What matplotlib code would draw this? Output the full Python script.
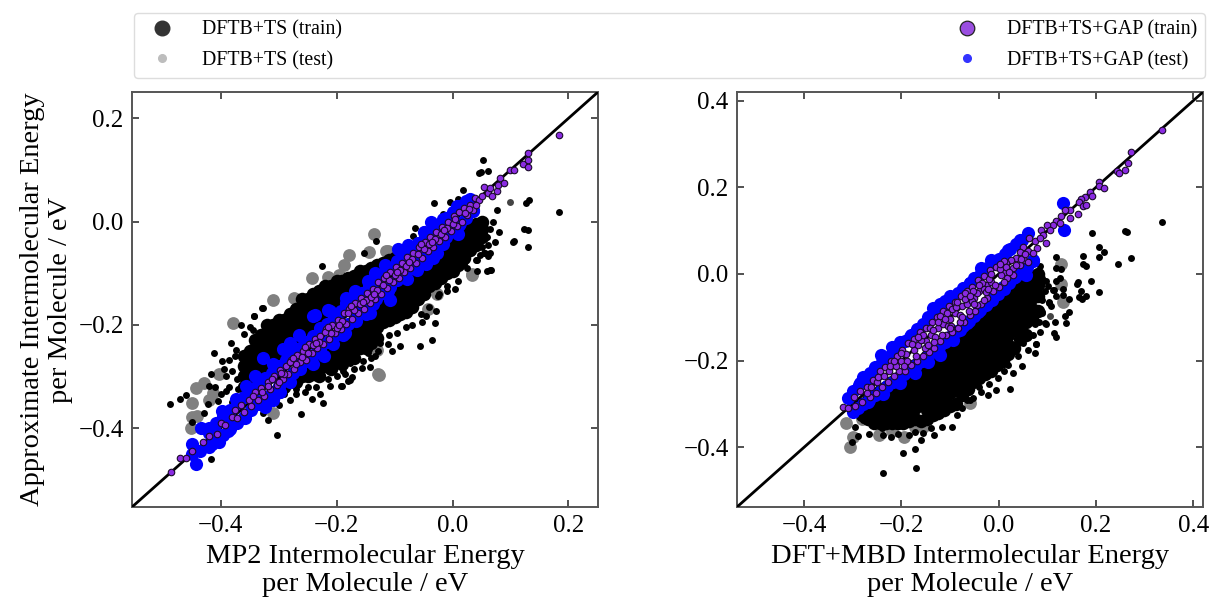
import matplotlib
matplotlib.use("Agg")
import matplotlib.pyplot as plt
import numpy as np
from matplotlib.lines import Line2D

plt.rcParams['font.family'] = ['Liberation Serif', 'DejaVu Serif']

# Values, as (x, y) in eV
# Left panel: MP2
mp2_ts_test = [(-0.135, -0.024), (-0.144, -0.059), (-0.179, -0.065), (-0.187, -0.085), (-0.243, -0.110),
               (-0.214, -0.108), (-0.196, -0.104), (-0.31, -0.151), (-0.274, -0.149), (-0.112, -0.058),
               (-0.379, -0.197), (-0.45, -0.351), (-0.443, -0.322), (-0.428, -0.313), (-0.414, -0.332),
               (-0.449, -0.378), (-0.451, -0.399), (-0.44, -0.377), (-0.403, -0.295), (-0.31, -0.37),
               (-0.129, -0.296), (-0.127, -0.297), (-0.042, -0.169), (0.034, -0.101), (-0.131, -0.248),
               (0.033, -0.103), (-0.114, -0.057), (-0.027, -0.141), (0.003, -0.08), (-0.42, -0.345)]
mp2_ts_train = [(-0.226, -0.087), (-0.132, -0.037), (-0.153, -0.06), (-0.032, 0.035), (-0.004, 0.037),
                (0.009, 0.043), (0.018, 0.062), (0.046, 0.095), (-0.065, -0.012), (-0.016, 0.015),
                (-0.328, -0.168), (-0.343, -0.182), (0.053, 0.119), (0.049, 0.096), (0.061, 0.098),
                (0.132, 0.041), (0.127, 0.036), (0.184, 0.018), (0.076, 0.022), (-0.068, -0.028),
                (-0.05, -0.015), (0.123, -0.015), (0.131, -0.017), (0.081, -0.02), (0.074, -0.039),
                (0.106, -0.038), (0.13, -0.05), (0.065, -0.06), (0.059, -0.096), (0.067, -0.094),
                (0.042, -0.074), (0.047, -0.064), (0.056, -0.06), (0.105, -0.039), (0.062, -0.046),
                (0.054, -0.06), (0.062, -0.066), (0.065, -0.094), (0.043, -0.096), (0.019, -0.083),
                (0.005, -0.131), (-0.009, -0.135), (-0.023, -0.141), (-0.029, -0.174), (-0.03, -0.196),
                (-0.046, -0.183), (-0.053, -0.194), (-0.036, -0.23), (-0.056, -0.241), (-0.091, -0.242),
                (-0.112, -0.238), (-0.105, -0.251), (-0.128, -0.251), (-0.134, -0.26), (-0.143, -0.281),
                (-0.157, -0.283), (-0.174, -0.302), (-0.18, -0.309), (-0.192, -0.318), (-0.146, -0.254),
                (-0.177, -0.274), (-0.189, -0.289), (-0.487, -0.353), (-0.47, -0.343), (-0.46, -0.336),
                (-0.417, -0.46), (-0.302, -0.413), (-0.262, -0.373), (-0.318, -0.384), (-0.327, -0.37),
                (-0.243, -0.344), (-0.224, -0.352), (-0.229, -0.335), (-0.212, -0.319), (-0.191, -0.319),
                (-0.177, -0.306), (-0.411, -0.254), (-0.382, -0.235), (-0.327, -0.168), (-0.342, -0.182),
                (-0.417, -0.295), (-0.422, -0.354), (-0.428, -0.37), (-0.449, -0.388), (-0.405, -0.347),
                (-0.391, -0.328), (-0.373, -0.248), (-0.365, -0.2), (-0.359, -0.218), (-0.397, -0.271),
                (-0.385, -0.268), (-0.42, -0.319), (-0.371, -0.305), (-0.36, -0.285), (-0.355, -0.33),
                (-0.39, -0.3), (-0.345, -0.355), (-0.325, -0.345), (-0.3, -0.355), (-0.28, -0.345),
                (-0.27, -0.335), (-0.255, -0.33), (-0.38, -0.35), (-0.365, -0.345), (-0.345, -0.21),
                (-0.29, -0.335), (-0.27, -0.325), (-0.25, -0.32), (-0.235, -0.32), (-0.215, -0.305),
                (-0.2, -0.3), (-0.185, -0.295), (-0.17, -0.285), (-0.155, -0.27), (-0.14, -0.265),
                (-0.125, -0.235), (-0.11, -0.22), (-0.095, -0.215), (-0.08, -0.205), (-0.07, -0.2),
                (-0.055, -0.18), (-0.04, -0.165), (-0.025, -0.145), (-0.01, -0.125), (0.01, -0.115),
                (0.025, -0.09), (0.04, -0.075), (0.05, -0.05), (0.06, -0.03), (0.05, -0.012),
                (0.065, -0.015), (0.07, 0.0), (-0.375, -0.26), (-0.38, -0.29), (-0.37, -0.325),
                (-0.385, -0.32), (-0.4, -0.335), (-0.41, -0.32), (-0.395, -0.285), (-0.35, -0.205)]
mp2_ts_train_light = [(0.099, 0.037)]
# solid part of the cloud, too dense to read point by point: drawn with bigger black dots
mp2_ts_dense = [(-0.36, -0.26), (-0.36, -0.28), (-0.36, -0.30), (-0.36, -0.32),
                (-0.34, -0.23), (-0.34, -0.25), (-0.34, -0.27), (-0.34, -0.29), (-0.34, -0.31),
                (-0.32, -0.20), (-0.32, -0.22), (-0.32, -0.24), (-0.32, -0.26), (-0.32, -0.28), (-0.32, -0.30),
                (-0.30, -0.19), (-0.30, -0.21), (-0.30, -0.23), (-0.30, -0.25), (-0.30, -0.27), (-0.30, -0.29),
                (-0.28, -0.18), (-0.28, -0.20), (-0.28, -0.22), (-0.28, -0.24), (-0.28, -0.26),
                (-0.26, -0.15), (-0.26, -0.17), (-0.26, -0.19), (-0.26, -0.21), (-0.26, -0.23),
                (-0.24, -0.14), (-0.24, -0.16), (-0.24, -0.18), (-0.24, -0.20), (-0.24, -0.22),
                (-0.22, -0.125), (-0.22, -0.145), (-0.22, -0.165), (-0.22, -0.185), (-0.22, -0.20),
                (-0.20, -0.115), (-0.20, -0.135), (-0.20, -0.155), (-0.20, -0.175),
                (-0.18, -0.11), (-0.18, -0.13), (-0.18, -0.15), (-0.18, -0.165),
                (-0.16, -0.095), (-0.16, -0.115), (-0.16, -0.135), (-0.14, -0.09), (-0.14, -0.11), (-0.14, -0.12),
                (-0.12, -0.08), (-0.12, -0.10), (-0.10, -0.07),
                (-0.30, -0.33), (-0.28, -0.31), (-0.26, -0.30), (-0.26, -0.285), (-0.24, -0.295), (-0.24, -0.275),
                (-0.22, -0.28), (-0.22, -0.26), (-0.20, -0.27), (-0.20, -0.25), (-0.20, -0.23),
                (-0.18, -0.26), (-0.18, -0.24), (-0.18, -0.22), (-0.16, -0.245), (-0.16, -0.225), (-0.16, -0.205),
                (-0.14, -0.235), (-0.14, -0.215), (-0.14, -0.195), (-0.14, -0.175),
                (-0.12, -0.195), (-0.12, -0.175), (-0.12, -0.155),
                (-0.10, -0.185), (-0.10, -0.165), (-0.10, -0.145), (-0.10, -0.13),
                (-0.08, -0.175), (-0.08, -0.155), (-0.08, -0.135), (-0.08, -0.115),
                (-0.06, -0.15), (-0.06, -0.13), (-0.06, -0.11), (-0.06, -0.095),
                (-0.04, -0.125), (-0.04, -0.105), (-0.04, -0.085), (-0.04, -0.075),
                (-0.02, -0.11), (-0.02, -0.09), (-0.02, -0.07), (-0.02, -0.055),
                (0.00, -0.095), (0.00, -0.075), (0.00, -0.055), (0.00, -0.035),
                (0.02, -0.07), (0.02, -0.05), (0.02, -0.03), (0.02, -0.015),
                (0.04, -0.045), (0.04, -0.025), (0.04, -0.005),
                (-0.35, -0.25), (-0.35, -0.27), (-0.35, -0.29), (-0.35, -0.31),
                (-0.33, -0.22), (-0.33, -0.24), (-0.33, -0.26), (-0.33, -0.28), (-0.33, -0.30),
                (-0.31, -0.20), (-0.31, -0.22), (-0.31, -0.24), (-0.31, -0.26), (-0.31, -0.28), (-0.31, -0.30),
                (-0.29, -0.19), (-0.29, -0.21), (-0.29, -0.23), (-0.29, -0.25), (-0.29, -0.27),
                (-0.27, -0.17), (-0.27, -0.19), (-0.27, -0.21), (-0.27, -0.23), (-0.27, -0.25),
                (-0.25, -0.15), (-0.25, -0.17), (-0.25, -0.19), (-0.25, -0.21), (-0.25, -0.23),
                (-0.23, -0.135), (-0.23, -0.155), (-0.23, -0.175), (-0.23, -0.195),
                (-0.21, -0.125), (-0.21, -0.145), (-0.21, -0.165), (-0.21, -0.185),
                (-0.19, -0.115), (-0.19, -0.135), (-0.19, -0.155), (-0.19, -0.17),
                (-0.17, -0.105), (-0.17, -0.125), (-0.17, -0.145), (-0.15, -0.095), (-0.15, -0.115), (-0.15, -0.13),
                (-0.13, -0.085), (-0.13, -0.105), (-0.11, -0.075), (-0.11, -0.09),
                (-0.29, -0.32), (-0.29, -0.31), (-0.27, -0.31), (-0.27, -0.295), (-0.25, -0.30), (-0.25, -0.285),
                (-0.23, -0.30), (-0.23, -0.28), (-0.23, -0.26), (-0.21, -0.285), (-0.21, -0.265), (-0.21, -0.245),
                (-0.19, -0.275), (-0.19, -0.255), (-0.19, -0.235),
                (-0.17, -0.265), (-0.17, -0.245), (-0.17, -0.225), (-0.17, -0.205),
                (-0.15, -0.245), (-0.15, -0.225), (-0.15, -0.205), (-0.15, -0.185),
                (-0.13, -0.225), (-0.13, -0.205), (-0.13, -0.185), (-0.13, -0.165),
                (-0.11, -0.19), (-0.11, -0.17), (-0.11, -0.15), (-0.11, -0.135),
                (-0.09, -0.18), (-0.09, -0.16), (-0.09, -0.14), (-0.09, -0.12),
                (-0.07, -0.165), (-0.07, -0.145), (-0.07, -0.125), (-0.07, -0.105),
                (-0.05, -0.14), (-0.05, -0.12), (-0.05, -0.10), (-0.05, -0.085),
                (-0.03, -0.12), (-0.03, -0.10), (-0.03, -0.08), (-0.03, -0.065),
                (-0.01, -0.10), (-0.01, -0.08), (-0.01, -0.06), (-0.01, -0.045),
                (0.01, -0.085), (0.01, -0.065), (0.01, -0.045), (0.01, -0.025),
                (0.03, -0.055), (0.03, -0.035), (0.03, -0.015), (0.05, -0.03), (0.05, -0.015), (0.05, 0.0)]
mp2_gap_test = [(-0.443, -0.47), (-0.434, -0.399), (-0.449, -0.43), (-0.415, -0.431), (-0.403, -0.428),
                (-0.356, -0.318), (-0.327, -0.264), (-0.293, -0.247), (-0.265, -0.219), (-0.241, -0.183),
                (-0.212, -0.174), (-0.183, -0.158), (-0.397, -0.367), (-0.373, -0.344), (-0.388, -0.405),
                (-0.358, -0.38), (-0.324, -0.36), (-0.298, -0.331), (-0.264, -0.286), (-0.222, -0.26),
                (-0.186, -0.215), (-0.143, -0.177), (-0.206, -0.238), (-0.408, -0.409), (-0.45, -0.451),
                (-0.238, -0.181), (-0.215, -0.172), (-0.169, -0.135), (-0.134, -0.099), (-0.117, -0.085),
                (-0.094, -0.054), (-0.077, -0.045), (-0.037, -0.001), (-0.05, -0.021), (-0.016, 0.004),
                (0.007, 0.03), (0.03, 0.043), (-0.146, -0.115), (-0.183, -0.148), (-0.108, -0.151),
                (-0.062, -0.093), (-0.027, -0.06), (0.01, -0.025), (-0.149, -0.18), (-0.079, -0.112),
                (-0.045, -0.083), (0.013, -0.003), (0.036, 0.023), (-0.189, -0.219), (-0.166, -0.193),
                (-0.137, -0.16), (-0.111, -0.135), (-0.033, -0.07), (-0.016, -0.044), (-0.34, -0.30),
                (-0.31, -0.275), (-0.28, -0.235), (-0.255, -0.27), (-0.24, -0.275), (-0.34, -0.345),
                (-0.38, -0.385), (-0.31, -0.345), (-0.28, -0.31), (-0.42, -0.41), (-0.435, -0.445),
                (-0.42, -0.40), (-0.408, -0.39), (-0.396, -0.376), (-0.384, -0.366), (-0.372, -0.352),
                (-0.36, -0.34), (-0.348, -0.33), (-0.336, -0.314), (-0.324, -0.304), (-0.312, -0.294),
                (-0.30, -0.28), (-0.288, -0.268), (-0.276, -0.258), (-0.264, -0.244), (-0.252, -0.234),
                (-0.24, -0.222), (-0.228, -0.206), (-0.216, -0.198), (-0.204, -0.184), (-0.192, -0.174),
                (-0.18, -0.162), (-0.168, -0.148), (-0.156, -0.138), (-0.144, -0.124), (-0.132, -0.114),
                (-0.12, -0.102), (-0.108, -0.09), (-0.096, -0.076), (-0.084, -0.066), (-0.072, -0.054),
                (-0.06, -0.042), (-0.048, -0.03), (-0.036, -0.018), (-0.024, -0.006), (-0.012, 0.006),
                (0.0, 0.018), (0.012, 0.03), (0.024, 0.04),
                (-0.42, -0.436), (-0.408, -0.425), (-0.396, -0.414), (-0.384, -0.402), (-0.372, -0.39),
                (-0.36, -0.378), (-0.348, -0.366), (-0.336, -0.354), (-0.324, -0.342), (-0.312, -0.33),
                (-0.30, -0.318), (-0.288, -0.306), (-0.276, -0.294), (-0.264, -0.282), (-0.252, -0.27),
                (-0.24, -0.258), (-0.228, -0.246), (-0.216, -0.234), (-0.204, -0.222), (-0.192, -0.21),
                (-0.18, -0.198), (-0.168, -0.186), (-0.156, -0.174), (-0.144, -0.162), (-0.132, -0.15),
                (-0.12, -0.138), (-0.108, -0.126), (-0.096, -0.114), (-0.084, -0.102), (-0.072, -0.09),
                (-0.06, -0.078), (-0.048, -0.066), (-0.036, -0.054), (-0.024, -0.042), (-0.012, -0.03),
                (0.0, -0.018), (0.012, -0.006), (0.024, 0.006), (0.036, 0.02)]
mp2_gap_train = [(-0.486, -0.485), (-0.47, -0.458), (-0.46, -0.459), (-0.449, -0.444), (-0.431, -0.428),
                 (-0.421, -0.416), (-0.407, -0.412), (-0.4, -0.39), (-0.381, -0.378), (-0.372, -0.38),
                 (-0.365, -0.355), (-0.36, -0.368), (-0.352, -0.345), (-0.348, -0.358), (-0.34, -0.33),
                 (-0.336, -0.345), (-0.33, -0.322), (-0.325, -0.338), (-0.318, -0.31), (-0.315, -0.325),
                 (-0.308, -0.3), (-0.303, -0.316), (-0.298, -0.288), (-0.293, -0.305), (-0.288, -0.28),
                 (-0.283, -0.295), (-0.278, -0.268), (-0.273, -0.285), (-0.268, -0.258), (-0.263, -0.272),
                 (-0.258, -0.25), (-0.253, -0.268), (-0.248, -0.238), (-0.243, -0.255), (-0.238, -0.228),
                 (-0.233, -0.245), (-0.228, -0.222), (-0.223, -0.238), (-0.218, -0.208), (-0.213, -0.228),
                 (-0.208, -0.2), (-0.203, -0.216), (-0.198, -0.19), (-0.193, -0.208), (-0.188, -0.178),
                 (-0.183, -0.198), (-0.178, -0.17), (-0.173, -0.188), (-0.168, -0.158), (-0.163, -0.178),
                 (-0.158, -0.148), (-0.153, -0.17), (-0.148, -0.138), (-0.143, -0.158), (-0.138, -0.13),
                 (-0.133, -0.15), (-0.128, -0.118), (-0.123, -0.14), (-0.118, -0.11), (-0.113, -0.128),
                 (-0.108, -0.098), (-0.103, -0.118), (-0.098, -0.088), (-0.093, -0.11), (-0.088, -0.08),
                 (-0.083, -0.098), (-0.078, -0.068), (-0.073, -0.09), (-0.068, -0.06), (-0.063, -0.08),
                 (-0.058, -0.05), (-0.053, -0.07), (-0.048, -0.04), (-0.043, -0.058), (-0.038, -0.03),
                 (-0.033, -0.05), (-0.028, -0.02), (-0.023, -0.038), (-0.018, -0.01), (-0.013, -0.03),
                 (-0.008, 0.0), (-0.003, -0.018), (0.002, 0.01), (0.007, -0.008), (0.012, 0.018),
                 (0.017, 0.0), (0.019, 0.027), (0.025, 0.012), (0.03, 0.033), (0.035, 0.022),
                 (0.039, 0.045), (0.045, 0.042), (0.05, 0.05), (0.055, 0.067), (0.062, 0.056),
                 (0.064, 0.065), (0.068, 0.05), (0.077, 0.06), (0.078, 0.071), (0.082, 0.084),
                 (0.088, 0.075), (0.1, 0.099), (0.106, 0.099), (0.122, 0.112), (0.13, 0.12),
                 (0.131, 0.132), (0.131, 0.106), (0.184, 0.168), (-0.29, -0.296), (-0.25, -0.255),
                 (-0.21, -0.215), (-0.17, -0.172), (-0.13, -0.133), (-0.09, -0.093), (-0.05, -0.053),
                 (-0.01, -0.012), (0.028, 0.024), (-0.27, -0.275), (-0.23, -0.234), (-0.19, -0.192),
                 (-0.15, -0.152), (-0.11, -0.113), (-0.07, -0.072), (-0.03, -0.033),
                 (-0.392, -0.395), (-0.376, -0.365), (-0.344, -0.338), (-0.328, -0.33), (-0.312, -0.305),
                 (-0.30, -0.31), (-0.28, -0.272), (-0.26, -0.262), (-0.24, -0.24), (-0.22, -0.214),
                 (-0.2, -0.207), (-0.18, -0.178), (-0.16, -0.16), (-0.14, -0.146), (-0.12, -0.122),
                 (-0.1, -0.103), (-0.08, -0.086), (-0.06, -0.062), (-0.04, -0.044), (-0.02, -0.024),
                 (0.0, -0.004), (0.022, 0.016), (0.04, 0.032), (-0.318, -0.318), (-0.296, -0.293),
                 (-0.275, -0.265), (-0.255, -0.243), (-0.235, -0.236), (-0.215, -0.204), (-0.195, -0.2),
                 (-0.175, -0.163), (-0.155, -0.155), (-0.135, -0.14), (-0.115, -0.104), (-0.095, -0.098),
                 (-0.075, -0.078), (-0.055, -0.044), (-0.035, -0.04), (-0.015, -0.016), (0.005, 0.004)]

# Right panel: DFT+MBD
mbd_ts_test = [(0.129, 0.023), (0.129, -0.023), (0.133, -0.064), (-0.306, -0.399), (-0.313, -0.345),
               (-0.247, -0.372), (-0.299, -0.376), (-0.195, -0.377), (-0.172, -0.353), (-0.06, -0.297),
               (-0.271, -0.314), (-0.237, -0.349), (-0.22, -0.362), (-0.156, -0.353), (-0.28, -0.335)]
mbd_ts_train = [(0.336, 0.119), (0.26, 0.098), (0.264, 0.096), (0.191, 0.095), (0.206, 0.063),
                (0.216, 0.051), (0.173, 0.042), (0.206, 0.038), (0.273, 0.036), (0.117, 0.04),
                (0.245, 0.022), (0.173, 0.023), (0.18, 0.019), (0.085, 0.019), (0.118, 0.014),
                (0.129, 0.012), (0.127, -0.009), (0.117, -0.016), (0.189, -0.016), (0.164, -0.018),
                (0.16, -0.024), (0.098, -0.016), (0.101, -0.027), (0.132, -0.034), (0.17, -0.039),
                (0.207, -0.042), (0.113, -0.037), (0.132, -0.048), (0.118, -0.05), (0.18, -0.05),
                (0.165, -0.054), (0.172, -0.058), (0.144, -0.058), (0.104, -0.064), (0.108, -0.075),
                (0.09, -0.089), (0.144, -0.089), (0.137, -0.096), (0.083, -0.112), (0.096, -0.114),
                (0.115, -0.112), (0.139, -0.114), (0.113, -0.137), (0.118, -0.146), (0.077, -0.162),
                (-0.237, -0.46), (-0.169, -0.447), (-0.197, -0.414), (-0.172, -0.404), (-0.302, -0.389),
                (-0.29, -0.374), (-0.267, -0.369), (-0.237, -0.372), (-0.221, -0.376), (-0.207, -0.369),
                (-0.185, -0.372), (-0.172, -0.364), (-0.159, -0.383), (-0.133, -0.372), (-0.156, -0.368),
                (-0.116, -0.353), (-0.097, -0.353), (-0.295, -0.353), (-0.258, -0.349), (-0.278, -0.337),
                (-0.06, -0.291), (-0.022, -0.279), (-0.006, -0.268), (0.024, -0.266), (-0.001, -0.241),
                (0.029, -0.229), (0.047, -0.213), (0.074, -0.182), (0.077, -0.161), (0.05, -0.16),
                (-0.036, -0.272), (-0.053, -0.287), (0.098, -0.115), (0.088, -0.091), (0.104, -0.068),
                (0.111, -0.037), (-0.24, -0.355), (-0.21, -0.352), (-0.14, -0.355), (-0.075, -0.31),
                (-0.04, -0.26), (0.01, -0.225), (0.06, -0.175), (0.085, -0.135),
                (0.09, -0.06), (0.095, -0.04), (0.09, -0.01), (0.075, -0.115), (0.07, -0.14),
                (0.04, -0.19), (0.02, -0.21), (-0.02, -0.255), (-0.065, -0.29), (-0.085, -0.325)]
mbd_ts_train_light = [(0.106, -0.097)]
# same as mp2_ts_dense, solid part of the cloud
mbd_ts_dense = [(-0.28, -0.30), (-0.28, -0.325),
                (-0.256, -0.28), (-0.256, -0.305), (-0.256, -0.33), (-0.256, -0.345),
                (-0.232, -0.26), (-0.232, -0.285), (-0.232, -0.31), (-0.232, -0.335), (-0.232, -0.345),
                (-0.208, -0.24), (-0.208, -0.265), (-0.208, -0.29), (-0.208, -0.315), (-0.208, -0.345),
                (-0.184, -0.22), (-0.184, -0.245), (-0.184, -0.27), (-0.184, -0.295), (-0.184, -0.32), (-0.184, -0.34),
                (-0.16, -0.20), (-0.16, -0.225), (-0.16, -0.25), (-0.16, -0.275), (-0.16, -0.30), (-0.16, -0.34),
                (-0.136, -0.18), (-0.136, -0.205), (-0.136, -0.23), (-0.136, -0.255), (-0.136, -0.28), (-0.136, -0.305), (-0.136, -0.325),
                (-0.112, -0.16), (-0.112, -0.185), (-0.112, -0.21), (-0.112, -0.235), (-0.112, -0.26), (-0.112, -0.285), (-0.112, -0.315),
                (-0.088, -0.14), (-0.088, -0.165), (-0.088, -0.19), (-0.088, -0.215), (-0.088, -0.24), (-0.088, -0.265), (-0.088, -0.30),
                (-0.064, -0.115), (-0.064, -0.14), (-0.064, -0.165), (-0.064, -0.19), (-0.064, -0.215), (-0.064, -0.24), (-0.064, -0.265),
                (-0.04, -0.09), (-0.04, -0.115), (-0.04, -0.14), (-0.04, -0.165), (-0.04, -0.19), (-0.04, -0.215), (-0.04, -0.24),
                (-0.016, -0.07), (-0.016, -0.095), (-0.016, -0.12), (-0.016, -0.145), (-0.016, -0.17), (-0.016, -0.195), (-0.016, -0.225),
                (0.008, -0.05), (0.008, -0.075), (0.008, -0.10), (0.008, -0.125), (0.008, -0.15), (0.008, -0.175), (0.008, -0.20),
                (0.032, -0.03), (0.032, -0.055), (0.032, -0.08), (0.032, -0.105), (0.032, -0.13), (0.032, -0.17),
                (0.056, -0.01), (0.056, -0.035), (0.056, -0.06), (0.056, -0.085), (0.056, -0.11), (0.056, -0.14),
                (0.08, 0.0), (0.08, -0.025), (0.08, -0.05), (0.08, -0.085),
                (-0.268, -0.29), (-0.268, -0.315), (-0.268, -0.335),
                (-0.244, -0.27), (-0.244, -0.295), (-0.244, -0.32), (-0.244, -0.345),
                (-0.22, -0.25), (-0.22, -0.275), (-0.22, -0.30), (-0.22, -0.325), (-0.22, -0.345),
                (-0.196, -0.23), (-0.196, -0.255), (-0.196, -0.28), (-0.196, -0.305), (-0.196, -0.33), (-0.196, -0.345),
                (-0.172, -0.21), (-0.172, -0.235), (-0.172, -0.26), (-0.172, -0.285), (-0.172, -0.31), (-0.172, -0.335),
                (-0.148, -0.19), (-0.148, -0.215), (-0.148, -0.24), (-0.148, -0.265), (-0.148, -0.29), (-0.148, -0.315), (-0.148, -0.335),
                (-0.124, -0.17), (-0.124, -0.195), (-0.124, -0.22), (-0.124, -0.245), (-0.124, -0.27), (-0.124, -0.295), (-0.124, -0.32),
                (-0.10, -0.15), (-0.10, -0.175), (-0.10, -0.20), (-0.10, -0.225), (-0.10, -0.25), (-0.10, -0.275), (-0.10, -0.305),
                (-0.076, -0.125), (-0.076, -0.15), (-0.076, -0.175), (-0.076, -0.20), (-0.076, -0.225), (-0.076, -0.25), (-0.076, -0.28),
                (-0.052, -0.10), (-0.052, -0.125), (-0.052, -0.15), (-0.052, -0.175), (-0.052, -0.20), (-0.052, -0.225), (-0.052, -0.25),
                (-0.028, -0.08), (-0.028, -0.105), (-0.028, -0.13), (-0.028, -0.155), (-0.028, -0.18), (-0.028, -0.205), (-0.028, -0.23),
                (-0.004, -0.06), (-0.004, -0.085), (-0.004, -0.11), (-0.004, -0.135), (-0.004, -0.16), (-0.004, -0.185), (-0.004, -0.21),
                (0.02, -0.04), (0.02, -0.065), (0.02, -0.09), (0.02, -0.115), (0.02, -0.14), (0.02, -0.165), (0.02, -0.185),
                (0.044, -0.02), (0.044, -0.045), (0.044, -0.07), (0.044, -0.095), (0.044, -0.12), (0.044, -0.15),
                (0.068, -0.005), (0.068, -0.03), (0.068, -0.055), (0.068, -0.08), (0.068, -0.105)]
mbd_gap_test = [(-0.241, -0.187), (-0.22, -0.168), (-0.278, -0.237), (-0.309, -0.287), (-0.036, 0.013),
                (0.019, 0.055), (0.06, 0.094), (0.132, 0.163), (-0.299, -0.318), (-0.237, -0.276),
                (-0.172, -0.229), (-0.121, -0.187), (-0.094, -0.152), (-0.042, -0.087), (0.057, -0.002),
                (0.135, 0.102), (-0.066, -0.114), (-0.015, -0.052), (0.029, -0.01), (0.07, 0.032),
                (-0.268, -0.24), (-0.183, -0.145), (-0.135, -0.079), (-0.1, -0.052), (-0.073, -0.033),
                (-0.06, -0.021), (-0.145, -0.099), (-0.203, -0.156), (-0.254, -0.214), (-0.285, -0.252),
                (-0.166, -0.129), (-0.11, -0.063), (-0.015, 0.032), (0.043, 0.079), (-0.268, -0.295),
                (-0.203, -0.252), (-0.145, -0.203), (-0.08, -0.129), (-0.025, -0.067), (0.008, -0.029),
                (0.04, 0.0), (-0.05, -0.01), (-0.12, -0.07), (-0.26, -0.28),
                (-0.30, -0.27), (-0.288, -0.256), (-0.276, -0.242), (-0.264, -0.228), (-0.252, -0.216),
                (-0.24, -0.204), (-0.228, -0.192), (-0.216, -0.178), (-0.204, -0.166), (-0.192, -0.154),
                (-0.18, -0.14), (-0.168, -0.128), (-0.156, -0.116), (-0.144, -0.102), (-0.132, -0.09),
                (-0.12, -0.078), (-0.108, -0.066), (-0.096, -0.054), (-0.084, -0.044), (-0.072, -0.032),
                (-0.06, -0.02), (-0.048, -0.01), (-0.036, 0.002), (-0.024, 0.014), (-0.012, 0.024),
                (0.0, 0.034), (0.012, 0.046), (0.024, 0.058), (0.036, 0.068), (0.048, 0.078),
                (-0.29, -0.31), (-0.278, -0.3), (-0.266, -0.29), (-0.254, -0.28), (-0.242, -0.27),
                (-0.23, -0.258), (-0.218, -0.25), (-0.206, -0.24), (-0.194, -0.23), (-0.182, -0.22),
                (-0.17, -0.21), (-0.158, -0.2), (-0.146, -0.19), (-0.134, -0.178), (-0.122, -0.168),
                (-0.11, -0.156), (-0.098, -0.144), (-0.086, -0.132), (-0.074, -0.12), (-0.062, -0.108),
                (-0.05, -0.096), (-0.038, -0.084), (-0.026, -0.072), (-0.014, -0.06), (-0.002, -0.046),
                (0.01, -0.034), (0.022, -0.02), (0.034, -0.008), (0.046, 0.004), (0.058, 0.016), (0.07, 0.03)]
mbd_gap_train = [(0.336, 0.333), (0.273, 0.282), (0.265, 0.256), (0.26, 0.24), (0.243, 0.237),
                 (0.247, 0.233), (0.206, 0.213), (0.206, 0.202), (0.217, 0.198), (0.188, 0.19),
                 (0.191, 0.181), (0.178, 0.177), (0.17, 0.173), (0.166, 0.167), (0.173, 0.156),
                 (0.18, 0.159), (0.163, 0.139), (0.146, 0.148), (0.137, 0.148), (0.146, 0.129),
                 (0.129, 0.133), (0.118, 0.123), (0.111, 0.113), (0.1, 0.113), (0.125, 0.117),
                 (0.087, 0.102), (0.105, 0.102), (0.091, 0.09), (0.098, 0.071), (0.062, 0.082),
                 (0.074, 0.075), (0.084, 0.082), (0.079, 0.059), (0.05, 0.062), (0.06, 0.052),
                 (0.07, 0.048), (0.043, 0.051), (0.036, 0.036), (0.053, 0.032), (0.026, 0.032),
                 (0.06, 0.028), (0.043, 0.021), (0.016, 0.025), (0.029, 0.013), (0.012, 0.005),
                 (0.029, -0.003), (0.005, -0.002), (-0.32, -0.307), (-0.31, -0.31), (-0.298, -0.285),
                 (-0.295, -0.305), (-0.285, -0.27), (-0.28, -0.295), (-0.27, -0.26), (-0.265, -0.285),
                 (-0.258, -0.245), (-0.252, -0.275), (-0.245, -0.225), (-0.24, -0.26), (-0.233, -0.215),
                 (-0.228, -0.25), (-0.222, -0.2), (-0.216, -0.235), (-0.21, -0.19), (-0.205, -0.225),
                 (-0.198, -0.175), (-0.192, -0.225), (-0.186, -0.16), (-0.18, -0.21), (-0.174, -0.15),
                 (-0.168, -0.2), (-0.162, -0.135), (-0.156, -0.19), (-0.15, -0.125), (-0.144, -0.18),
                 (-0.138, -0.11), (-0.132, -0.17), (-0.126, -0.1), (-0.12, -0.155), (-0.114, -0.085),
                 (-0.108, -0.14), (-0.102, -0.075), (-0.096, -0.135), (-0.09, -0.065), (-0.084, -0.125),
                 (-0.078, -0.05), (-0.072, -0.11), (-0.066, -0.04), (-0.06, -0.095), (-0.054, -0.03),
                 (-0.048, -0.085), (-0.042, -0.015), (-0.036, -0.07), (-0.03, -0.005), (-0.024, -0.055),
                 (-0.018, 0.01), (-0.012, -0.04), (-0.006, 0.015), (0.0, -0.03), (0.01, 0.03),
                 (0.018, -0.01), (-0.25, -0.25), (-0.225, -0.225), (-0.2, -0.2), (-0.175, -0.175),
                 (-0.15, -0.155), (-0.125, -0.125), (-0.1, -0.105), (-0.075, -0.075), (-0.05, -0.055),
                 (-0.025, -0.025), (-0.19, -0.185), (-0.165, -0.165), (-0.14, -0.14), (-0.115, -0.115),
                 (-0.09, -0.09), (-0.065, -0.07), (-0.04, -0.04), (-0.015, -0.018), (-0.13, -0.145),
                 (-0.105, -0.12), (-0.08, -0.095), (-0.055, -0.062), (-0.03, -0.035), (-0.12, -0.098),
                 (-0.095, -0.082), (-0.07, -0.058), (-0.045, -0.045), (-0.02, -0.012), (0.003, 0.012),
                 (-0.27, -0.275), (-0.262, -0.262), (-0.248, -0.238), (-0.236, -0.235), (-0.224, -0.212),
                 (-0.212, -0.212), (-0.2, -0.182), (-0.188, -0.2), (-0.178, -0.162), (-0.17, -0.19),
                 (-0.16, -0.152), (-0.152, -0.172), (-0.142, -0.125), (-0.134, -0.158), (-0.124, -0.11),
                 (-0.116, -0.14), (-0.106, -0.09), (-0.098, -0.12), (-0.088, -0.076), (-0.08, -0.11),
                 (-0.07, -0.045), (-0.062, -0.085), (-0.052, -0.04), (-0.044, -0.072), (-0.034, -0.02),
                 (-0.026, -0.042), (-0.016, 0.0), (-0.008, -0.025), (0.002, 0.022), (0.01, -0.018),
                 (-0.215, -0.2), (-0.195, -0.212), (-0.155, -0.14), (-0.135, -0.13), (-0.11, -0.105),
                 (-0.085, -0.065), (-0.06, -0.05), (-0.04, -0.025), (-0.022, -0.035), (0.015, 0.015),
                 (0.022, 0.005), (0.035, 0.02), (0.045, 0.035), (0.055, 0.045), (-0.165, -0.145),
                 (-0.145, -0.165), (-0.1, -0.125), (-0.075, -0.1), (-0.05, -0.07), (-0.03, -0.06)]

mp2_ticks = [-0.4, -0.2, 0.0, 0.2]
mbd_ticks = [-0.4, -0.2, 0.0, 0.2, 0.4]

spine_color = '#555555'
grey = '#808080'
purple = '#8a2be2'
blue = '#0000ff'


def draw(ax, lims_x, lims_y, ticks, test, train, light, dense, gap_test, gap_train):
    x, y = np.array(test).T
    ax.scatter(x, y, s=85, color=grey, linewidths=0, zorder=2)
    x, y = np.array(dense).T
    ax.scatter(x, y, s=95, color='black', linewidths=0, zorder=3)
    x, y = np.array(train).T
    ax.scatter(x, y, s=25, color='black', linewidths=0, zorder=3)
    x, y = np.array(light).T
    ax.scatter(x, y, s=25, color='#444444', linewidths=0, zorder=3)
    ax.plot(lims_x, lims_y, color='black', lw=2, zorder=4)
    x, y = np.array(gap_test).T
    ax.scatter(x, y, s=90, color=blue, linewidths=0, zorder=5)
    x, y = np.array(gap_train).T
    ax.scatter(x, y, s=22, color=purple, edgecolors='#1a0a2a', linewidths=0.8, zorder=6)
    ax.set_xlim(lims_x)
    ax.set_ylim(lims_y)
    ax.set_xticks(ticks)
    ax.set_yticks(ticks)
    ax.tick_params(which='both', direction='in', top=True, right=True, length=5, width=1.1,
                   labelsize=18, color='#222222', pad=6)
    for spine in ax.spines.values():
        spine.set_color(spine_color)
        spine.set_linewidth(1.4)


fig = plt.figure(figsize=(12.14, 6.01), dpi=100)
ax1 = fig.add_axes([132 / 1214, 1 - 507 / 601, 466 / 1214, 415 / 601])
ax2 = fig.add_axes([737 / 1214, 1 - 507 / 601, 466 / 1214, 415 / 601])

draw(ax1, (-0.553, 0.251), (-0.553, 0.251), mp2_ticks, mp2_ts_test, mp2_ts_train, mp2_ts_train_light,
     mp2_ts_dense, mp2_gap_test, mp2_gap_train)
draw(ax2, (-0.538, 0.42), (-0.538, 0.42), mbd_ticks, mbd_ts_test, mbd_ts_train, mbd_ts_train_light,
     mbd_ts_dense, mbd_gap_test, mbd_gap_train)

ax1.set_xlabel("MP2 Intermolecular Energy\nper Molecule / eV", fontsize=20.5, labelpad=5, linespacing=1.15)
ax2.set_xlabel("DFT+MBD Intermolecular Energy\nper Molecule / eV", fontsize=20.5, labelpad=5, linespacing=1.15)
ax1.set_ylabel("Approximate Intermolecular Energy\nper Molecule / eV", fontsize=20.5, labelpad=4, linespacing=1.15)

handles = [
    Line2D([], [], ls='', marker='o', ms=10.5, mfc='#333333', mec='#333333', label="DFTB+TS (train)"),
    Line2D([], [], ls='', marker='o', ms=5.5, mfc='#bdbdbd', mec='#bdbdbd', label="DFTB+TS (test)"),
    Line2D([], [], ls='', marker='o', ms=10.5, mfc='#9a4ee0', mec='#222222', mew=0.9, label="DFTB+TS+GAP (train)"),
    Line2D([], [], ls='', marker='o', ms=5.5, mfc='#3333ff', mec='#3333ff', label="DFTB+TS+GAP (test)"),
]
leg = fig.legend(handles=handles, ncol=2, mode='expand', fontsize=14.3, loc='lower left',
                 bbox_to_anchor=(134 / 1214, 1 - 78 / 601, 1071 / 1214, 66 / 601), borderaxespad=0,
                 handletextpad=1.0, labelspacing=0.55, fancybox=True, framealpha=1, edgecolor='#dddddd')

fig.savefig("out.png", dpi=100)
